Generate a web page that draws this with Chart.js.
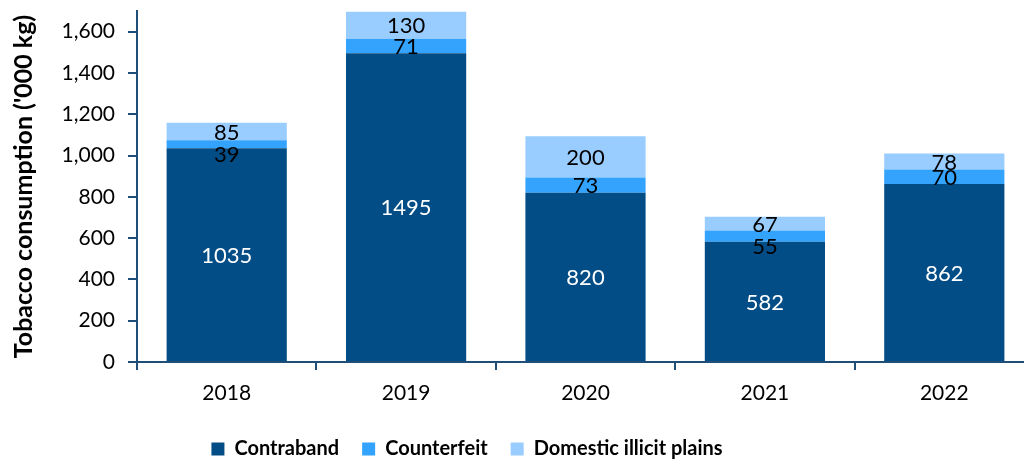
<!DOCTYPE html>
<html>
<head>
<meta charset="utf-8">
<script src="https://cdn.jsdelivr.net/npm/chart.js@4.4.1/dist/chart.umd.min.js"></script>
<style>
  html, body { margin: 0; padding: 0; background: #fff; overflow: hidden; }
  #wrap { width: 1040px; height: 461px; position: relative; }
</style>
</head>
<body>
<div id="wrap"><canvas id="chart"></canvas></div>
<script>
// tobacco consumption by source, '000 kg
const years          = ['2018', '2019', '2020', '2021', '2022'];
const contraband     = [1035, 1495, 820, 582, 862];
const counterfeit    = [39, 71, 73, 55, 70];
const domesticPlains = [85, 130, 200, 67, 78];
const yTickValues    = [0, 200, 400, 600, 800, 1000, 1200, 1400, 1600];

const AXIS = '#1f4e79';
const FONT = "Lato, 'Open Sans', sans-serif";

// value labels centred in each stacked segment; a label that would sit
// right on top of the one above it gets pushed down a bit
const segmentLabels = {
  id: 'segmentLabels',
  afterDatasetsDraw(chart) {
    const ctx = chart.ctx;
    const n = chart.data.datasets.length;
    ctx.save();
    ctx.font = '22px ' + FONT;
    ctx.textAlign = 'center';
    ctx.textBaseline = 'middle';
    chart.data.labels.forEach((_, j) => {
      let above = null;
      for (let i = n - 1; i >= 0; i--) {
        const ds = chart.data.datasets[i];
        const bar = chart.getDatasetMeta(i).data[j];
        let y = (bar.y + bar.base) / 2 + 1;
        if (above !== null && y - above < 14) y = above + 22;
        ctx.fillStyle = ds.labelColor;
        ctx.fillText(String(ds.data[j]), bar.x, y);
        above = y;
      }
    });
    ctx.restore();
  }
};

// legend sits a bit left of the canvas centre
const legendShift = {
  id: 'legendShift',
  afterLayout(chart) {
    const lg = chart.legend;
    const dx = -50, dy = 8;
    lg.left += dx; lg.right += dx;
    lg.top += dy; lg.bottom += dy;
  }
};

new Chart(document.getElementById('chart'), {
  type: 'bar',
  data: {
    labels: years,
    datasets: [
      { label: 'Contraband', data: contraband, backgroundColor: '#034d86', labelColor: '#ffffff' },
      { label: 'Counterfeit', data: counterfeit, backgroundColor: '#33a3fd', labelColor: '#000000' },
      { label: 'Domestic illicit plains', data: domesticPlains, backgroundColor: '#99ccff', labelColor: '#000000' },
    ],
  },
  options: {
    responsive: true,
    maintainAspectRatio: false,
    animation: false,
    datasets: { bar: { categoryPercentage: 1, barPercentage: 0.67 } },
    layout: { padding: { top: 11, right: 6, left: 0, bottom: 0 } },
    plugins: {
      tooltip: { enabled: false },
      legend: {
        position: 'bottom',
        labels: {
          boxWidth: 13, boxHeight: 13, padding: 23, color: '#000',
          font: { family: FONT, size: 20, weight: 'bold' },
        },
      },
    },
    scales: {
      x: {
        stacked: true,
        offset: true,
        border: { color: AXIS, width: 2 },
        grid: { offset: true, drawOnChartArea: false, color: AXIS, lineWidth: 2, tickLength: 8 },
        ticks: { color: '#000', font: { family: FONT, size: 21 }, padding: 11 },
        afterFit(scale) { scale.height = 46; },
      },
      y: {
        stacked: true,
        min: 0,
        max: 1700,
        border: { color: AXIS, width: 2 },
        grid: { drawOnChartArea: false, color: AXIS, lineWidth: 2, tickLength: 9 },
        afterBuildTicks(scale) { scale.ticks = yTickValues.map(v => ({ value: v })); },
        ticks: {
          color: '#000', padding: 13,
          font: { family: FONT, size: 21 },
          callback: v => v.toLocaleString('en-US'),
        },
        title: {
          display: true,
          text: "Tobacco consumption ('000 kg)",
          color: '#000',
          font: { family: FONT, size: 25, weight: 'bold' },
          padding: { top: 9, bottom: 0 },
        },
        afterFit(scale) {
          scale.width = 137;
          scale.paddingTop = 0;
          scale.paddingBottom = 0;
        },
      },
    },
  },
  plugins: [segmentLabels, legendShift],
});
</script>
</body>
</html>
